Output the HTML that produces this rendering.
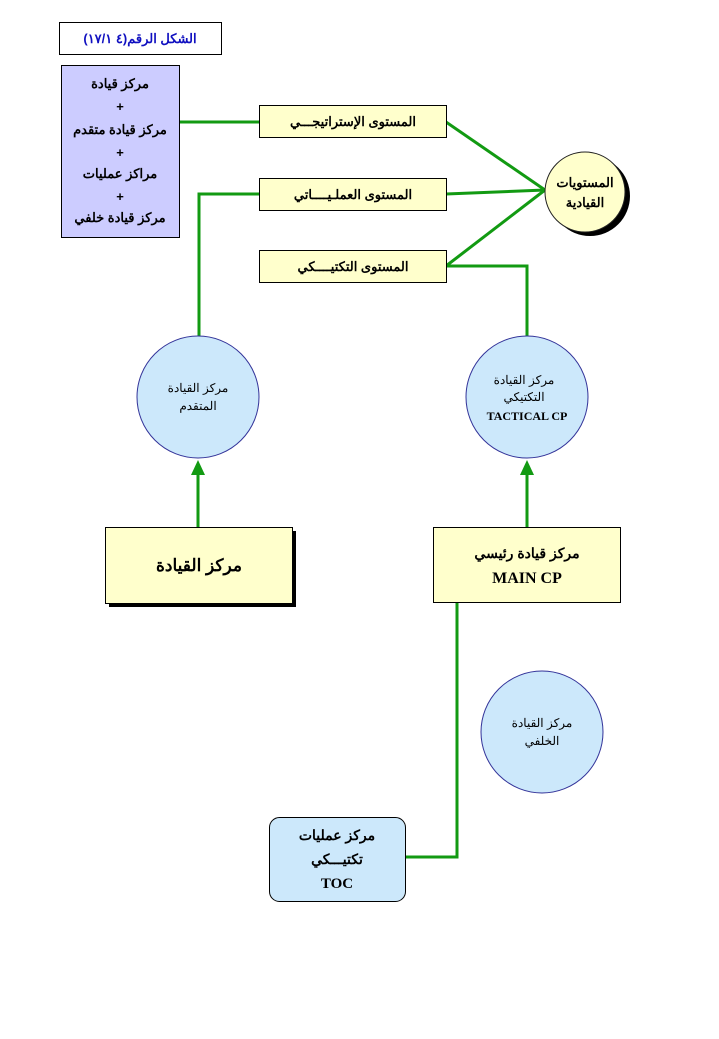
<!DOCTYPE html>
<html><head><meta charset="utf-8"><style>
html,body{margin:0;padding:0;background:#fff;}
svg{display:block;}
text{font-family:"Liberation Sans","Noto Sans CJK SC",sans-serif;font-weight:bold;fill:#000;}
.s{font-size:12px;font-weight:normal;}
.en{font-family:"Liberation Serif",serif;font-weight:bold;}
</style></head><body>
<svg width="719" height="1039" viewBox="0 0 719 1039" xmlns="http://www.w3.org/2000/svg">
<g stroke="#129a12" stroke-width="3" fill="none">
<polyline points="179,122 259,122"/>
<polyline points="446,122 545,190"/>
<polyline points="446,194 545,190"/>
<polyline points="446,266 545,190"/>
<polyline points="446,266 527,266 527,337"/>
<polyline points="259,194 199,194 199,337"/>
<line x1="198" y1="527" x2="198" y2="472"/>
<line x1="527" y1="527" x2="527" y2="472"/>
<polyline points="457,603 457,857 405,857"/>
</g>
<polygon points="198,460 191,475 205,475" fill="#129a12"/>
<polygon points="527,460 520,475 534,475" fill="#129a12"/>

<rect x="59.5" y="22.5" width="162" height="32" fill="#fff" stroke="#000"/>
<text x="140" y="43" text-anchor="middle" font-size="13" style="fill:#1010c0" direction="rtl">الشكل الرقم(٤ ١٧/١)</text>

<rect x="61.5" y="65.5" width="118" height="172" fill="#ccccff" stroke="#000"/>
<g font-size="13" text-anchor="middle">
<text x="120" y="88">مركز قيادة</text>
<text x="120" y="111">+</text>
<text x="120" y="134">مركز قيادة متقدم</text>
<text x="120" y="157">+</text>
<text x="120" y="178">مراكز عمليات</text>
<text x="120" y="201">+</text>
<text x="120" y="222">مركز قيادة خلفي</text>
</g>

<g fill="#ffffcc" stroke="#000">
<rect x="259.5" y="105.5" width="187" height="32"/>
<rect x="259.5" y="178.5" width="187" height="32"/>
<rect x="259.5" y="250.5" width="187" height="32"/>
</g>
<g font-size="13" text-anchor="middle">
<text x="353" y="126">المستوى الإستراتيجـــي</text>
<text x="353" y="199">المستوى العملـيــــاتي</text>
<text x="353" y="271">المستوى التكتيــــكي</text>
</g>

<circle cx="590" cy="196" r="40" fill="#000"/>
<circle cx="585" cy="192" r="40" fill="#ffffcc" stroke="#222"/>
<text x="585" y="187" font-size="13" text-anchor="middle">المستويات</text>
<text x="585" y="207" font-size="13" text-anchor="middle">القيادية</text>

<g fill="#cce8fb" stroke="#333399">
<circle cx="198" cy="397" r="61"/>
<circle cx="527" cy="397" r="61"/>
<circle cx="542" cy="732" r="61"/>
</g>
<text class="s" x="198" y="392" text-anchor="middle">مركز القيادة</text>
<text class="s" x="198" y="410" text-anchor="middle">المتقدم</text>
<text class="s" x="524" y="384" text-anchor="middle">مركز القيادة</text>
<text class="s" x="524" y="401" text-anchor="middle">التكتيكي</text>
<text class="en" x="527" y="420" font-size="12" text-anchor="middle">TACTICAL CP</text>
<text class="s" x="542" y="727" text-anchor="middle">مركز القيادة</text>
<text class="s" x="542" y="745" text-anchor="middle">الخلفي</text>

<rect x="109" y="531" width="187" height="76" fill="#000"/>
<rect x="105.5" y="527.5" width="187" height="76" fill="#ffffcc" stroke="#000"/>
<text x="199" y="571" font-size="17" text-anchor="middle">مركز القيادة</text>

<rect x="433.5" y="527.5" width="187" height="75" fill="#ffffcc" stroke="#000"/>
<text x="527" y="558" font-size="14" text-anchor="middle">مركز قيادة رئيسي</text>
<text class="en" x="527" y="583" font-size="16" text-anchor="middle">MAIN CP</text>

<rect x="269.5" y="817.5" width="136" height="84" rx="10" fill="#cce8fb" stroke="#000"/>
<text x="337" y="840" font-size="14" text-anchor="middle">مركز عمليات</text>
<text x="337" y="864" font-size="14" text-anchor="middle">تكتيـــكي</text>
<text class="en" x="337" y="888" font-size="15" text-anchor="middle">TOC</text>
</svg>
</body></html>
